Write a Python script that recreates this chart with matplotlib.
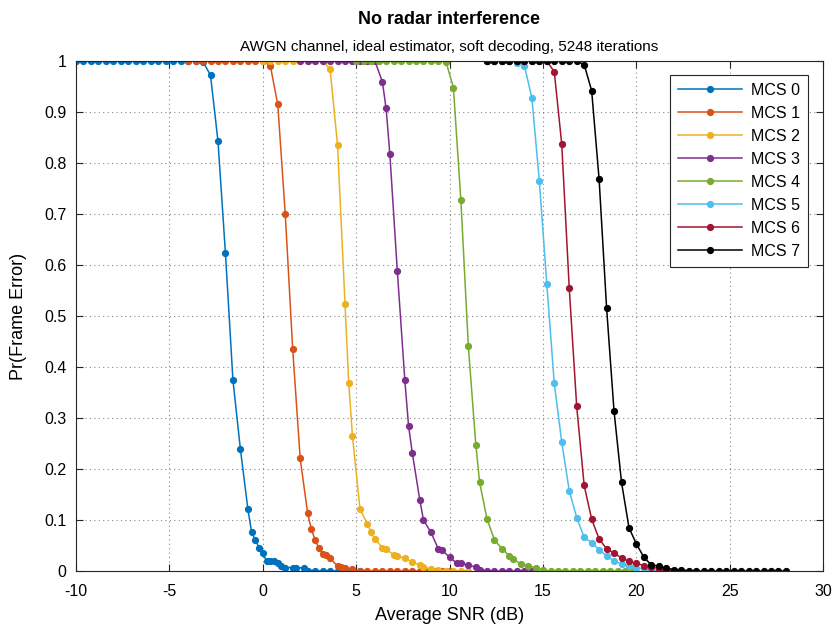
import matplotlib
matplotlib.use("Agg")
import matplotlib.pyplot as plt

plt.rcParams["font.family"] = ["Liberation Sans", "DejaVu Sans"]
plt.rcParams["axes.unicode_minus"] = False

# ── frame error rate vs SNR, one sweep per MCS ─────────────────────
snr_mcs0 = [-10.0, -9.6, -9.2, -8.8, -8.4, -8.0, -7.6, -7.2, -6.8, -6.4, -6.0, -5.6,
            -5.2, -4.8, -4.4, -4.0, -3.6, -3.2, -2.8, -2.4, -2.0, -1.6, -1.2, -0.8,
            -0.6, -0.4, -0.2, 0.0, 0.2, 0.4, 0.6, 0.8, 1.0, 1.2, 1.6, 1.8, 2.2, 2.4,
            2.8, 3.2, 3.6, 4.0, 4.4, 4.8, 5.2]
fer_mcs0 = [1.0, 1.0, 1.0, 1.0, 1.0, 1.0, 1.0, 1.0, 1.0, 1.0, 1.0, 1.0,
            1.0, 1.0, 1.0, 1.0, 1.0, 0.999, 0.972, 0.843, 0.623, 0.375, 0.239, 0.122,
            0.076, 0.061, 0.046, 0.035, 0.020, 0.020, 0.019, 0.016, 0.010, 0.007, 0.007,
            0.006, 0.007, 0.001, 0.001, 0.0, 0.0, 0.0, 0.0, 0.0, 0.0]

snr_mcs1 = [-4.0, -3.6, -3.2, -2.8, -2.4, -2.0, -1.6, -1.2, -0.8, -0.4, 0.0, 0.4,
            0.8, 1.2, 1.6, 2.0, 2.4, 2.6, 2.8, 3.0, 3.2, 3.4, 3.6, 4.0, 4.2, 4.4,
            4.8, 5.2, 5.6, 6.0, 6.4, 6.8, 7.2, 7.6, 8.0, 8.4, 8.8, 9.2, 9.6, 10.0]
fer_mcs1 = [1.0, 1.0, 1.0, 1.0, 1.0, 1.0, 1.0, 1.0, 1.0, 1.0, 1.0, 0.991,
            0.915, 0.701, 0.435, 0.221, 0.113, 0.082, 0.061, 0.045, 0.033, 0.032,
            0.025, 0.010, 0.008, 0.007, 0.004, 0.0, 0.0, 0.0, 0.0, 0.0, 0.0, 0.0,
            0.0, 0.0, 0.0, 0.0, 0.0, 0.0]

snr_mcs2 = [0.0, 0.4, 0.8, 1.2, 1.6, 2.0, 2.4, 2.8, 3.2, 3.6, 4.0, 4.4, 4.6, 4.8,
            5.2, 5.6, 5.8, 6.0, 6.4, 6.6, 7.0, 7.2, 7.6, 8.0, 8.4, 8.6, 9.0, 9.4,
            9.8, 10.2, 10.6, 11.0]
fer_mcs2 = [1.0, 1.0, 1.0, 1.0, 1.0, 1.0, 1.0, 1.0, 1.0, 0.984, 0.835, 0.524,
            0.368, 0.264, 0.122, 0.092, 0.076, 0.063, 0.046, 0.043, 0.032, 0.030,
            0.025, 0.018, 0.012, 0.008, 0.004, 0.002, 0.001, 0.0, 0.0, 0.0]

snr_mcs3 = [2.0, 2.4, 2.8, 3.2, 3.6, 4.0, 4.4, 4.8, 5.2, 5.6, 6.0, 6.4, 6.6, 6.8,
            7.2, 7.6, 7.8, 8.0, 8.4, 8.6, 9.0, 9.4, 9.6, 10.0, 10.4, 10.6, 11.0,
            11.4, 11.6, 12.0, 12.4, 12.8, 13.2, 13.6, 14.0, 14.4]
fer_mcs3 = [1.0, 1.0, 1.0, 1.0, 1.0, 1.0, 1.0, 1.0, 1.0, 1.0, 1.0, 0.959, 0.907,
            0.817, 0.588, 0.375, 0.285, 0.232, 0.140, 0.100, 0.076, 0.043, 0.041,
            0.027, 0.015, 0.015, 0.012, 0.008, 0.002, 0.001, 0.0, 0.0, 0.0, 0.0,
            0.0, 0.0]

snr_mcs4 = [5.0, 5.4, 5.8, 6.2, 6.6, 7.0, 7.4, 7.8, 8.2, 8.6, 9.0, 9.4, 9.8, 10.2,
            10.6, 11.0, 11.4, 11.6, 12.0, 12.4, 12.8, 13.2, 13.4, 13.8, 14.2, 14.6,
            15.0, 15.4, 15.8, 16.2, 16.6, 17.0, 17.4, 17.8, 18.2, 18.6, 19.0, 19.4,
            19.8]
fer_mcs4 = [1.0, 1.0, 1.0, 1.0, 1.0, 1.0, 1.0, 1.0, 1.0, 1.0, 1.0, 1.0, 0.999,
            0.948, 0.728, 0.441, 0.248, 0.175, 0.102, 0.061, 0.044, 0.030, 0.024,
            0.014, 0.010, 0.007, 0.002, 0.0, 0.0, 0.0, 0.0, 0.0, 0.0, 0.0, 0.0,
            0.0, 0.0, 0.0, 0.0]

snr_mcs5 = [12.0, 12.4, 12.8, 13.2, 13.6, 14.0, 14.4, 14.8, 15.2, 15.6, 16.0, 16.4,
            16.8, 17.2, 17.6, 18.0, 18.4, 18.8, 19.2, 19.6, 20.0, 20.4, 20.8, 21.2,
            21.6]
fer_mcs5 = [1.0, 1.0, 1.0, 1.0, 0.997, 0.991, 0.928, 0.765, 0.563, 0.368, 0.253,
            0.158, 0.105, 0.066, 0.056, 0.042, 0.030, 0.020, 0.014, 0.010, 0.007,
            0.004, 0.002, 0.001, 0.0]

snr_mcs6 = [12.0, 12.4, 12.8, 13.2, 13.6, 14.0, 14.4, 14.8, 15.2, 15.6, 16.0, 16.4,
            16.8, 17.2, 17.6, 18.0, 18.4, 18.8, 19.2, 19.6, 20.0, 20.4, 20.8, 21.2,
            21.6, 22.0, 22.4]
fer_mcs6 = [1.0, 1.0, 1.0, 1.0, 1.0, 1.0, 1.0, 1.0, 1.0, 0.979, 0.837, 0.556,
            0.323, 0.168, 0.102, 0.063, 0.044, 0.035, 0.026, 0.019, 0.015, 0.011,
            0.008, 0.005, 0.003, 0.001, 0.0]

snr_mcs7 = [12.0, 12.4, 12.8, 13.2, 13.6, 14.0, 14.4, 14.8, 15.2, 15.6, 16.0, 16.4,
            16.8, 17.2, 17.6, 18.0, 18.4, 18.8, 19.2, 19.6, 20.0, 20.4, 20.8, 21.2,
            21.6, 22.0, 22.4, 22.8, 23.2, 23.6, 24.0, 24.4, 24.8, 25.2, 25.6, 26.0,
            26.4, 26.8, 27.2, 27.6, 28.0]
fer_mcs7 = [1.0, 1.0, 1.0, 1.0, 1.0, 1.0, 1.0, 1.0, 1.0, 1.0, 1.0, 1.0, 1.0,
            0.993, 0.942, 0.768, 0.516, 0.313, 0.174, 0.085, 0.053, 0.027, 0.012,
            0.010, 0.006, 0.003, 0.002, 0.001, 0.0, 0.0, 0.0, 0.0, 0.0, 0.0, 0.0,
            0.0, 0.0, 0.0, 0.0, 0.0, 0.0]

labels = ["MCS 0", "MCS 1", "MCS 2", "MCS 3", "MCS 4", "MCS 5", "MCS 6", "MCS 7"]
curves = [(snr_mcs0, fer_mcs0), (snr_mcs1, fer_mcs1), (snr_mcs2, fer_mcs2),
          (snr_mcs3, fer_mcs3), (snr_mcs4, fer_mcs4), (snr_mcs5, fer_mcs5),
          (snr_mcs6, fer_mcs6), (snr_mcs7, fer_mcs7)]
# MATLAB default line order, black for the last one
colors = ["#0072BD", "#D95319", "#EDB120", "#7E2F8E",
          "#77AC30", "#4DBEEE", "#A2142F", "#000000"]

fig = plt.figure(figsize=(8.35, 6.29), dpi=100)
ax = fig.add_axes([0.091, 0.092, 0.895, 0.811])

for (x, y), lab, c in zip(curves, labels, colors):
    ax.plot(x, y, "-o", color=c, lw=1.1, ms=4.2, label=lab)

ax.set_xlim(-10, 30)
ax.set_ylim(0, 1)
ax.set_xticks(range(-10, 31, 5))
ax.set_yticks([i / 10 for i in range(11)])
ax.set_yticklabels(["0", "0.1", "0.2", "0.3", "0.4", "0.5", "0.6", "0.7", "0.8", "0.9", "1"])
ax.grid(True, linestyle=(0, (1, 3)), color="#555555", lw=0.8, alpha=0.7)
ax.tick_params(direction="in", top=True, right=True, labelsize=11.5,
               length=5, width=0.8, color="#262626")
ax.tick_params(axis="x", pad=9)
ax.tick_params(axis="y", pad=7)
for s in ax.spines.values():
    s.set_color("#262626")
    s.set_linewidth(0.8)

ax.set_xlabel("Average SNR (dB)", fontsize=13, labelpad=6)
ax.set_ylabel("Pr(Frame Error)", fontsize=13, labelpad=12)

fig.text(0.538, 0.969, "No radar interference", ha="center", va="center",
         fontsize=13, fontweight="bold")
fig.text(0.538, 0.926, "AWGN channel, ideal estimator, soft decoding, 5248 iterations",
         ha="center", va="center", fontsize=11)

leg = ax.legend(loc="upper right", bbox_to_anchor=(0.98, 0.973), fontsize=11.5,
                fancybox=False, framealpha=1, edgecolor="#262626",
                handlelength=4.0, borderpad=0.5, labelspacing=0.5, handletextpad=0.6,
                borderaxespad=0)
leg.get_frame().set_linewidth(0.8)

fig.savefig("out.png", dpi=100)
